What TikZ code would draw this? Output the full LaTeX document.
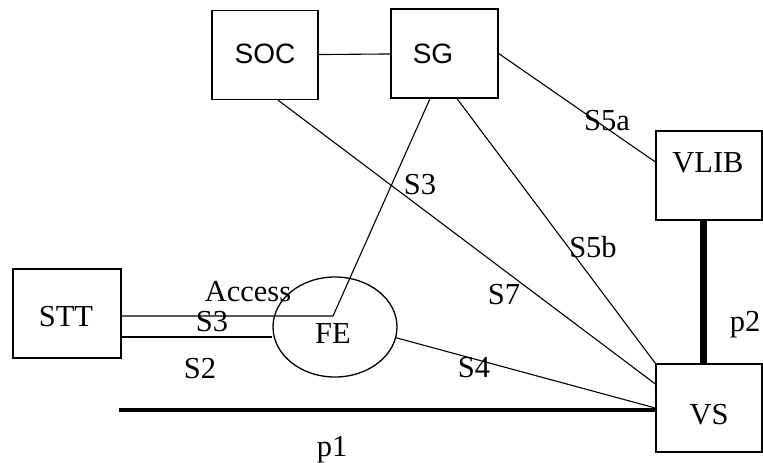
\documentclass[tikz,border=0pt]{standalone}
\usepackage{fontspec}
\setmainfont{Liberation Serif}
\newfontfamily\boxsans{Liberation Sans}
\usetikzlibrary{shapes.geometric}
\begin{document}
\begin{tikzpicture}[x=1pt,y=-1pt,
  box/.style={draw,line width=1.3pt,minimum width=106pt,minimum height=89pt,inner sep=0pt},
  txt/.style={font=\fontsize{30.5}{35}\selectfont,inner sep=0pt},
  stxt/.style={font=\boxsans\fontsize{28}{33}\selectfont,inner sep=0pt},
  link/.style={line width=1.1pt},
  pipe/.style={line width=#1},
]
\useasboundingbox (0,0) rectangle (763,463);
% boxes
\node[box] (soc) at (265,55) {};
\node[box,minimum width=107pt] (sg) at (444.5,53.5) {};
\node[box] (vlib) at (709,175.5) {};
\node[box,minimum height=88pt] (vs) at (709,408) {};
\node[box,minimum width=108pt] (stt) at (67,313.5) {};
\node[draw,ellipse,line width=1.3pt,minimum width=124pt,minimum height=100pt,inner sep=0pt] (fe) at (335,327) {};
% box texts
\node[stxt] at (265,54) {SOC};
\node[stxt] at (433,54) {SG};
\node[txt] at (708,163) {VLIB};
\node[txt] at (709,415) {VS};
\node[txt] at (66,317) {STT};
\node[txt] at (333,334) {FE};
% connectors
\coordinate (j) at (333,316);
\coordinate (p1s) at (119,410);
\draw[link] (soc) -- (sg);
\draw[link] (sg.east) -- ([yshift=13.5pt]vlib.west);
\draw[link] ([xshift=12.5pt]sg.south) -- (vs.north west);
\draw[link] ([xshift=13pt]soc.south) -- ([yshift=24pt]vs.west);
\draw[link] ([yshift=-2.5pt]stt.east) -- (j) -- ([xshift=-14.5pt]sg.south);
\draw[link] ([yshift=-23.5pt]stt.east) -- ([yshift=-23.5pt]stt.east -| fe.west);
\draw[link] (fe.-10) -- (vs.west);
\draw[pipe=4pt] (p1s) -- (p1s -| vs.west);
\draw[pipe=7pt] ([xshift=-6pt]vlib.south) -- ([xshift=-6pt]vs.north);
% labels
\node[txt] at (607,121) {S5a};
\node[txt] at (420,185) {S3};
\node[txt] at (593,247) {S5b};
\node[txt] at (504,295) {S7};
\node[txt] at (474,368) {S4};
\node[txt] at (745,325) {p2};
\node[txt] at (332,450) {p1};
\node[txt] at (248,292) {Access};
\node[txt] at (212,322) {S3};
\node[txt] at (200,369) {S2};
\end{tikzpicture}
\end{document}
